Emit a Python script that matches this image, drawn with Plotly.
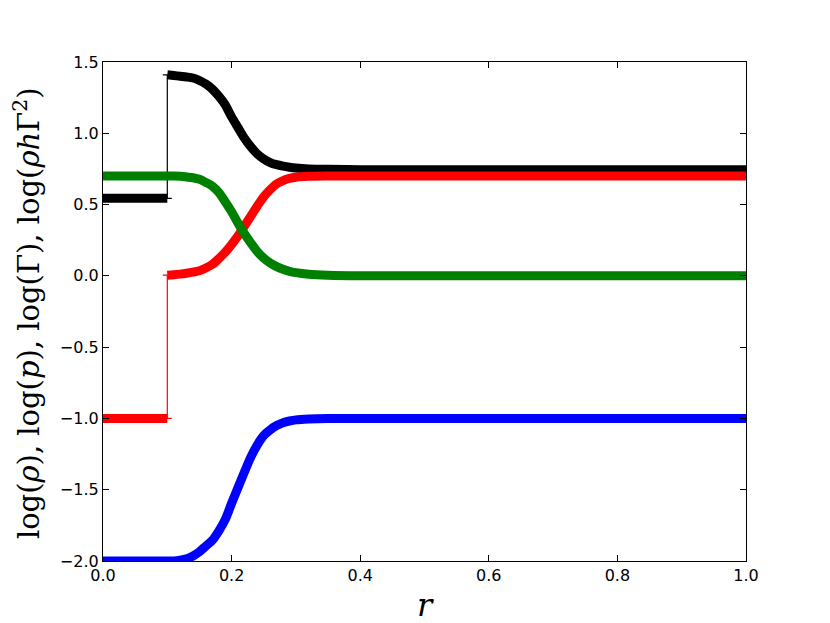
import plotly.graph_objects as go

# radial coordinate: inner region (r <= 0.1) and outer region (r >= 0.1)
r_inner = [0.0, 0.05, 0.1]
r_outer = [0.10, 0.11, 0.12, 0.13, 0.14, 0.15, 0.16, 0.17, 0.18, 0.19,
           0.20, 0.21, 0.22, 0.23, 0.24, 0.25, 0.26, 0.27, 0.28, 0.29,
           0.30, 0.32, 0.35, 0.40, 0.50, 0.60, 0.70, 0.80, 0.90, 1.00]

# log(rho)  (blue)
log_rho_inner = [-2.0, -2.0, -2.0]
log_rho_outer = [-2.0, -2.0, -1.995, -1.985, -1.965, -1.935, -1.895, -1.855, -1.79, -1.71,
                 -1.595, -1.485, -1.375, -1.27, -1.185, -1.12, -1.08, -1.05, -1.03, -1.018,
                 -1.01, -1.004, -1.0, -1.0, -1.0, -1.0, -1.0, -1.0, -1.0, -1.0]

# log(p)  (red)
log_p_inner = [-1.0, -1.0, -1.0]
log_p_outer = [0.005, 0.008, 0.012, 0.018, 0.026, 0.036, 0.055, 0.08, 0.12, 0.165,
               0.22, 0.28, 0.35, 0.42, 0.49, 0.555, 0.605, 0.645, 0.668, 0.684,
               0.692, 0.698, 0.70, 0.70, 0.70, 0.70, 0.70, 0.70, 0.70, 0.70]

# log(Gamma)  (green)
log_gamma_inner = [0.70, 0.70, 0.70]
log_gamma_outer = [0.70, 0.70, 0.698, 0.694, 0.688, 0.677, 0.655, 0.63, 0.585, 0.52,
                   0.45, 0.37, 0.295, 0.23, 0.17, 0.125, 0.09, 0.065, 0.046, 0.032,
                   0.023, 0.012, 0.005, 0.001, 0.0, 0.0, 0.0, 0.0, 0.0, 0.0]

# log(rho h Gamma^2)  (black)
log_rhohg2_inner = [0.544, 0.544, 0.544]
log_rhohg2_outer = [1.41, 1.405, 1.40, 1.395, 1.388, 1.37, 1.345, 1.31, 1.26, 1.20,
                    1.115, 1.04, 0.965, 0.905, 0.855, 0.82, 0.795, 0.78, 0.77, 0.762,
                    0.756, 0.75, 0.747, 0.745, 0.745, 0.745, 0.745, 0.745, 0.745, 0.745]

# thin initial-data jump at r = 0.1
jump_r = [0.107, 0.1, 0.1, 0.093]
jump_black = [0.544, 0.544, 1.41, 1.41]
jump_red = [-1.0, -1.0, 0.005, 0.005]

y_ticks = [-2.0, -1.5, -1.0, -0.5, 0.0, 0.5, 1.0, 1.5]
x_ticks = [0.0, 0.2, 0.4, 0.6, 0.8, 1.0]

def joined(a, b):
    return a + [None] + b

r_all = joined(r_inner, r_outer)
W = 9
thick = dict(width=W, shape="spline", smoothing=0.8)

fig = go.Figure()
fig.add_trace(go.Scatter(x=jump_r, y=jump_black, mode="lines",
                         line=dict(color="black", width=1.2), showlegend=False))
fig.add_trace(go.Scatter(x=jump_r, y=jump_red, mode="lines",
                         line=dict(color="#ff0000", width=1.2), showlegend=False))
fig.add_trace(go.Scatter(x=r_inner + r_outer, y=log_rho_inner + log_rho_outer, mode="lines",
                         line=dict(color="#0000ff", **thick), showlegend=False))
fig.add_trace(go.Scatter(x=r_all, y=joined(log_rhohg2_inner, log_rhohg2_outer), mode="lines",
                         line=dict(color="black", **thick), showlegend=False))
fig.add_trace(go.Scatter(x=r_all, y=joined(log_p_inner, log_p_outer), mode="lines",
                         line=dict(color="#ff0000", **thick), showlegend=False))
fig.add_trace(go.Scatter(x=r_inner + r_outer, y=log_gamma_inner + log_gamma_outer, mode="lines",
                         line=dict(color="#008000", **thick), showlegend=False))

axis_common = dict(showgrid=False, zeroline=False, showline=True, linecolor="black",
                   linewidth=1.2, mirror="allticks", ticks="inside", ticklen=6,
                   tickcolor="black", tickwidth=1, automargin=False,
                   tickfont=dict(family="DejaVu Sans", size=16, color="black"))

fig.update_layout(
    width=830, height=623,
    margin=dict(l=95, r=92, t=54, b=70),
    paper_bgcolor="white", plot_bgcolor="white",
    xaxis=dict(range=[0, 1], tickvals=x_ticks, ticktext=[f"{v:.1f}" for v in x_ticks],
               **axis_common),
    yaxis=dict(range=[-2, 1.5], tickvals=y_ticks,
               ticktext=[f"{v:.1f}".replace("-", "\u2212") for v in y_ticks],
               **axis_common),
    annotations=[
        dict(text="log(<i>ρ</i>), log(<i>p</i>), log(Γ), log(<i>ρh</i>Γ<sup>2</sup>)",
             xref="paper", yref="paper", x=-0.118, y=0.497, xanchor="center", yanchor="middle",
             textangle=-90, showarrow=False,
             font=dict(family="DejaVu Serif", size=29, color="black")),
        dict(text="<i>r</i>", xref="paper", yref="paper", x=0.5008, y=-0.088,
             xanchor="center", yanchor="middle", showarrow=False,
             font=dict(family="DejaVu Serif", size=32, color="black")),
    ],
)

fig.write_html("out.html")
